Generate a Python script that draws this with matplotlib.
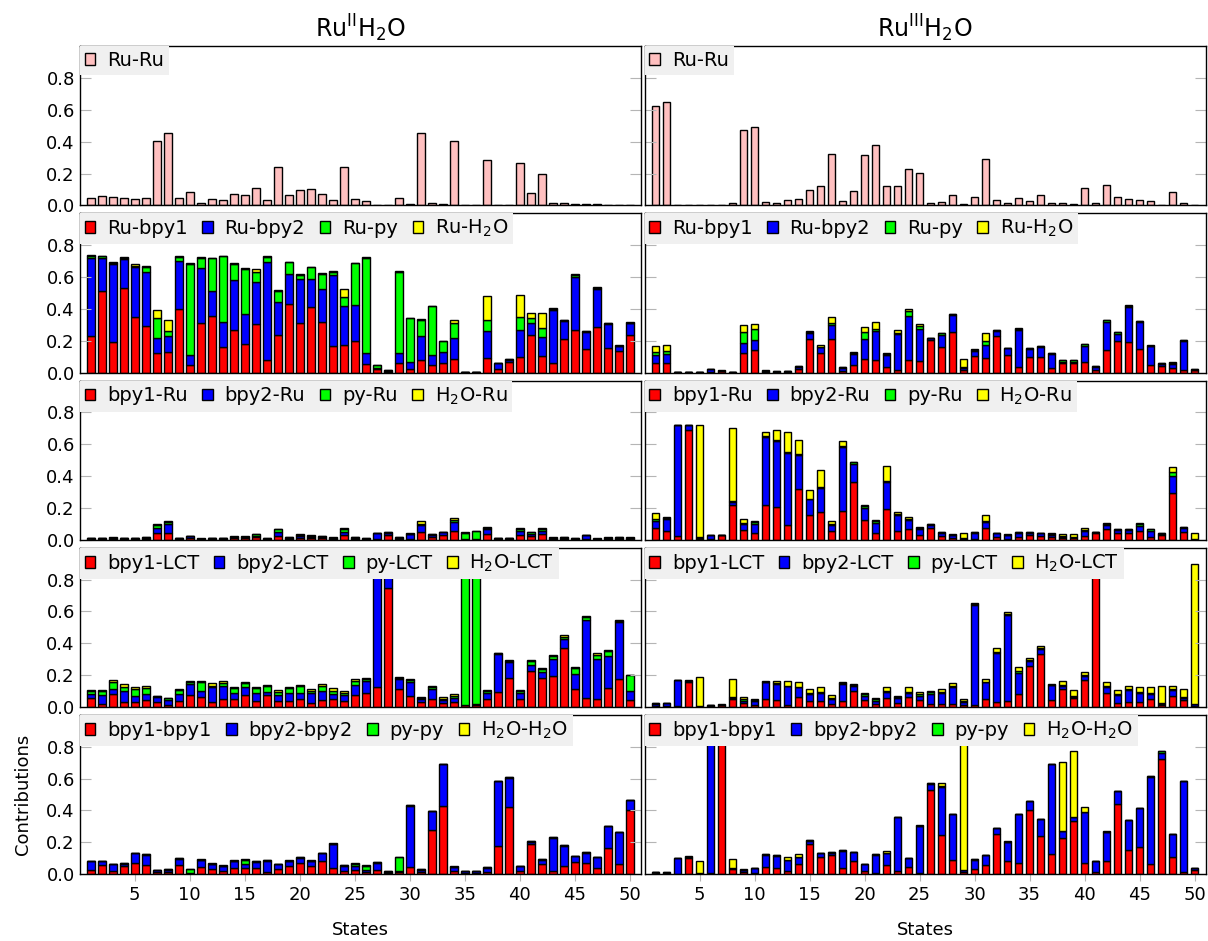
import matplotlib
matplotlib.use("Agg")
import matplotlib.pyplot as plt
import numpy as np

states = list(range(1, 51))
xtick_vals = [5, 10, 15, 20, 25, 30, 35, 40, 45, 50]
ytick_vals = [0.0, 0.2, 0.4, 0.6, 0.8]
column_titles = [r'Ru$^{\mathrm{II}}$H$_2$O', r'Ru$^{\mathrm{III}}$H$_2$O']

labels_ruru = ['Ru-Ru']
labels_ru_x = ['Ru-bpy1', 'Ru-bpy2', 'Ru-py', r'Ru-H$_2$O']
labels_x_ru = ['bpy1-Ru', 'bpy2-Ru', 'py-Ru', r'H$_2$O-Ru']
labels_lct = ['bpy1-LCT', 'bpy2-LCT', 'py-LCT', r'H$_2$O-LCT']
labels_xx = ['bpy1-bpy1', 'bpy2-bpy2', 'py-py', r'H$_2$O-H$_2$O']

# ---------------- Ru(II) ----------------
ii_ruru = [0.048,0.056,0.052,0.044,0.038,0.048,0.406,0.454,0.044,0.085,
           0.015,0.040,0.031,0.073,0.065,0.106,0.031,0.242,0.065,0.096,
           0.102,0.073,0.033,0.240,0.042,0.025,0.004,0.004,0.048,0.010,
           0.456,0.017,0.008,0.404,0.002,0.002,0.283,0.002,0.002,0.267,
           0.077,0.194,0.017,0.012,0.008,0.006,0.008,0.004,0.004,0.003]

ii_ru_bpy1 = [0.23,0.51,0.19,0.53,0.35,0.29,0.12,0.127,0.40,0.048,
              0.31,0.358,0.16,0.265,0.18,0.306,0.077,0.238,0.43,0.31,
              0.41,0.317,0.169,0.175,0.20,0.056,0.02,0.005,0.062,0.023,
              0.081,0.048,0.06,0.085,0.001,0.001,0.092,0.023,0.065,0.10,
              0.238,0.106,0.06,0.21,0.265,0.148,0.283,0.154,0.138,0.238]
ii_ru_bpy2 = [0.49,0.21,0.49,0.18,0.31,0.34,0.10,0.10,0.30,0.065,
              0.344,0.155,0.16,0.316,0.19,0.265,0.62,0.202,0.19,0.275,
              0.175,0.21,0.444,0.246,0.225,0.067,0.008,0.005,0.061,0.042,
              0.146,0.06,0.067,0.132,0.001,0.001,0.166,0.035,0.014,0.167,
              0.072,0.117,0.334,0.115,0.337,0.108,0.244,0.15,0.027,0.072]
ii_ru_py = [0.01,0.01,0.01,0.01,0.01,0.03,0.12,0.035,0.025,0.566,
            0.067,0.204,0.41,0.098,0.28,0.062,0.031,0.075,0.073,0.025,
            0.075,0.09,0.018,0.052,0.26,0.598,0.018,0.003,0.51,0.277,
            0.104,0.307,0.069,0.093,0.001,0.001,0.073,0.003,0.004,0.079,
            0.03,0.056,0.005,0.004,0.01,0.005,0.005,0.005,0.004,0.004]
ii_ru_h2o = [0.01,0.005,0.005,0.005,0.01,0.008,0.055,0.065,0.006,0.01,
             0.003,0.003,0.002,0.01,0.006,0.015,0.002,0.004,0.004,0.012,
             0.002,0.006,0.006,0.052,0.006,0.002,0.001,0.001,0.005,0.002,
             0.004,0.004,0.005,0.017,0.001,0.001,0.15,0.001,0.002,0.14,
             0.031,0.096,0.005,0.004,0.005,0.002,0.003,0.002,0.002,0.002]

ii_bpy1_ru = [0.004,0.004,0.005,0.004,0.004,0.006,0.044,0.04,0.004,0.008,
              0.003,0.004,0.004,0.01,0.012,0.015,0.003,0.025,0.006,0.012,
              0.012,0.01,0.005,0.029,0.006,0.003,0.003,0.033,0.005,0.003,
              0.046,0.02,0.027,0.052,0.002,0.002,0.035,0.004,0.004,0.027,
              0.025,0.035,0.005,0.005,0.003,0.003,0.003,0.005,0.005,0.006]
ii_bpy2_ru = [0.004,0.004,0.005,0.004,0.004,0.006,0.033,0.062,0.004,0.015,
              0.002,0.004,0.004,0.006,0.006,0.01,0.003,0.023,0.006,0.01,
              0.008,0.008,0.005,0.021,0.006,0.003,0.04,0.012,0.006,0.036,
              0.046,0.012,0.02,0.058,0.001,0.001,0.03,0.004,0.004,0.029,
              0.012,0.019,0.005,0.006,0.003,0.024,0.002,0.005,0.006,0.005]
ii_py_ru = [0.003,0.003,0.003,0.003,0.003,0.003,0.013,0.008,0.003,0.0,
            0.002,0.003,0.003,0.004,0.002,0.01,0.002,0.017,0.004,0.01,
            0.006,0.006,0.003,0.015,0.004,0.002,0.0,0.002,0.004,0.0,
            0.01,0.002,0.0,0.017,0.042,0.052,0.012,0.003,0.003,0.013,
            0.01,0.012,0.003,0.004,0.002,0.0,0.002,0.003,0.004,0.002]
ii_h2o_ru = [0.002,0.002,0.002,0.002,0.002,0.002,0.008,0.01,0.002,0.002,
             0.002,0.002,0.002,0.002,0.002,0.002,0.002,0.002,0.002,0.002,
             0.002,0.002,0.002,0.006,0.002,0.002,0.002,0.002,0.002,0.002,
             0.013,0.002,0.002,0.012,0.001,0.001,0.006,0.002,0.002,0.008,
             0.002,0.008,0.002,0.002,0.002,0.002,0.002,0.002,0.002,0.002]

ii_bpy1_lct = [0.056,0.021,0.083,0.029,0.029,0.044,0.029,0.015,0.035,0.077,
               0.065,0.033,0.052,0.052,0.077,0.04,0.073,0.04,0.04,0.05,
               0.023,0.046,0.052,0.04,0.077,0.085,0.127,0.748,0.115,0.067,
               0.029,0.048,0.023,0.033,0.01,0.015,0.05,0.092,0.179,0.05,
               0.223,0.179,0.196,0.369,0.113,0.058,0.052,0.119,0.177,0.046]
ii_bpy2_lct = [0.023,0.054,0.03,0.073,0.042,0.037,0.031,0.031,0.046,0.067,
               0.037,0.09,0.081,0.033,0.05,0.045,0.019,0.035,0.05,0.035,
               0.067,0.054,0.029,0.035,0.063,0.08,0.85,0.2,0.062,0.093,
               0.021,0.065,0.021,0.023,0.001,0.001,0.035,0.239,0.106,0.035,
               0.042,0.038,0.104,0.056,0.093,0.486,0.25,0.2,0.354,0.054]
ii_py_lct = [0.021,0.025,0.045,0.025,0.042,0.038,0.006,0.008,0.025,0.012,
             0.056,0.01,0.017,0.032,0.021,0.032,0.037,0.021,0.029,0.048,
             0.012,0.033,0.021,0.015,0.025,0.012,0.003,0.003,0.008,0.008,
             0.008,0.01,0.008,0.015,0.95,0.95,0.013,0.005,0.005,0.017,
             0.025,0.021,0.017,0.017,0.036,0.021,0.023,0.033,0.008,0.098]
ii_h2o_lct = [0.008,0.006,0.01,0.015,0.012,0.01,0.004,0.004,0.005,0.008,
              0.006,0.02,0.013,0.006,0.008,0.008,0.008,0.008,0.008,0.006,
              0.014,0.01,0.02,0.01,0.01,0.008,0.002,0.002,0.005,0.007,
              0.006,0.01,0.008,0.01,0.002,0.002,0.008,0.004,0.004,0.006,
              0.005,0.008,0.01,0.01,0.01,0.006,0.017,0.006,0.005,0.002]

ii_bpy1_bpy1 = [0.027,0.06,0.019,0.05,0.071,0.058,0.012,0.012,0.058,0.005,
                0.048,0.033,0.019,0.042,0.038,0.04,0.012,0.035,0.05,0.073,
                0.052,0.081,0.038,0.021,0.027,0.012,0.025,0.01,0.015,0.046,
                0.015,0.277,0.431,0.017,0.008,0.005,0.012,0.179,0.419,0.019,
                0.19,0.063,0.017,0.05,0.075,0.069,0.04,0.163,0.063,0.404]
ii_bpy2_bpy2 = [0.054,0.021,0.044,0.017,0.06,0.065,0.014,0.016,0.04,0.005,
                0.042,0.032,0.033,0.041,0.027,0.039,0.073,0.028,0.033,0.031,
                0.031,0.05,0.152,0.033,0.027,0.012,0.048,0.005,0.008,0.385,
                0.014,0.119,0.259,0.029,0.01,0.012,0.03,0.406,0.187,0.031,
                0.014,0.029,0.212,0.129,0.038,0.066,0.068,0.137,0.2,0.059]
ii_py_py = [0.002,0.002,0.002,0.002,0.002,0.002,0.002,0.002,0.002,0.02,
            0.002,0.002,0.002,0.002,0.027,0.002,0.002,0.002,0.002,0.002,
            0.002,0.002,0.002,0.002,0.013,0.03,0.002,0.002,0.083,0.002,
            0.002,0.002,0.002,0.002,0.002,0.002,0.002,0.002,0.002,0.002,
            0.002,0.002,0.002,0.002,0.002,0.002,0.002,0.002,0.002,0.002]
ii_h2o_h2o = [0.001,0.001,0.001,0.001,0.001,0.001,0.001,0.001,0.001,0.001,
              0.001,0.001,0.001,0.001,0.002,0.001,0.001,0.001,0.001,0.001,
              0.001,0.001,0.001,0.001,0.004,0.001,0.001,0.001,0.001,0.001,
              0.001,0.001,0.001,0.001,0.001,0.001,0.001,0.001,0.001,0.001,
              0.001,0.001,0.001,0.001,0.001,0.001,0.001,0.001,0.001,0.001]

# ---------------- Ru(III) ----------------
iii_ruru = [0.621,0.648,0.002,0.002,0.003,0.002,0.002,0.012,0.473,0.494,
            0.023,0.017,0.035,0.040,0.098,0.123,0.325,0.029,0.088,0.319,
            0.379,0.123,0.123,0.229,0.204,0.017,0.021,0.067,0.006,0.050,
            0.294,0.033,0.012,0.048,0.027,0.063,0.012,0.012,0.008,0.106,
            0.017,0.125,0.050,0.040,0.033,0.029,0.004,0.085,0.017,0.004]

iii_ru_bpy1 = [0.06,0.06,0.001,0.001,0.001,0.002,0.008,0.003,0.121,0.142,
               0.005,0.004,0.005,0.023,0.21,0.123,0.21,0.01,0.048,0.085,
               0.079,0.035,0.019,0.081,0.071,0.206,0.16,0.252,0.015,0.102,
               0.092,0.231,0.108,0.035,0.096,0.096,0.029,0.062,0.06,0.065,
               0.015,0.142,0.198,0.194,0.148,0.048,0.044,0.027,0.015,0.015]
iii_ru_bpy2 = [0.05,0.059,0.001,0.001,0.001,0.018,0.002,0.001,0.064,0.06,
               0.005,0.002,0.003,0.015,0.038,0.035,0.09,0.02,0.069,0.125,
               0.184,0.073,0.225,0.275,0.2,0.01,0.078,0.108,0.012,0.031,
               0.081,0.029,0.044,0.23,0.052,0.064,0.088,0.007,0.008,0.1,
               0.018,0.173,0.046,0.219,0.167,0.117,0.008,0.025,0.185,0.004]
iii_ru_py = [0.019,0.016,0.0,0.0,0.0,0.002,0.002,0.001,0.069,0.073,
             0.002,0.001,0.001,0.002,0.005,0.005,0.01,0.003,0.008,0.044,
             0.008,0.006,0.005,0.032,0.02,0.003,0.008,0.008,0.005,0.01,
             0.025,0.008,0.004,0.01,0.008,0.008,0.005,0.008,0.008,0.016,
             0.006,0.016,0.008,0.008,0.008,0.004,0.006,0.008,0.004,0.001]
iii_ru_h2o = [0.038,0.036,0.0,0.0,0.0,0.001,0.001,0.001,0.044,0.029,
              0.001,0.001,0.001,0.001,0.005,0.01,0.038,0.001,0.006,0.031,
              0.046,0.01,0.02,0.012,0.017,0.001,0.001,0.001,0.055,0.002,
              0.052,0.002,0.001,0.002,0.001,0.001,0.001,0.001,0.001,0.001,
              0.001,0.001,0.001,0.001,0.001,0.001,0.001,0.004,0.001,0.001]

iii_bpy1_ru = [0.077,0.054,0.025,0.692,0.005,0.002,0.027,0.221,0.06,0.04,
               0.219,0.206,0.09,0.317,0.154,0.175,0.058,0.179,0.36,0.123,
               0.044,0.196,0.052,0.067,0.029,0.071,0.021,0.008,0.004,0.006,
               0.075,0.019,0.006,0.019,0.031,0.021,0.015,0.012,0.01,0.023,
               0.042,0.065,0.04,0.04,0.056,0.019,0.029,0.294,0.048,0.002]
iii_bpy2_ru = [0.042,0.075,0.696,0.029,0.005,0.029,0.001,0.019,0.038,0.058,
               0.429,0.417,0.458,0.216,0.1,0.152,0.036,0.402,0.117,0.079,
               0.06,0.169,0.104,0.056,0.036,0.02,0.019,0.023,0.006,0.038,
               0.038,0.021,0.025,0.023,0.01,0.019,0.018,0.008,0.006,0.031,
               0.004,0.027,0.02,0.02,0.029,0.037,0.006,0.104,0.029,0.001]
iii_py_ru = [0.012,0.01,0.001,0.001,0.005,0.001,0.001,0.003,0.01,0.012,
             0.006,0.003,0.004,0.004,0.004,0.004,0.005,0.01,0.01,0.01,
             0.012,0.006,0.006,0.01,0.012,0.008,0.006,0.002,0.004,0.002,
             0.008,0.003,0.002,0.004,0.005,0.003,0.005,0.004,0.004,0.01,
             0.002,0.01,0.005,0.005,0.012,0.01,0.005,0.027,0.004,0.001]
iii_h2o_ru = [0.036,0.004,0.001,0.001,0.708,0.001,0.001,0.46,0.025,0.008,
              0.023,0.066,0.125,0.092,0.052,0.108,0.02,0.03,0.004,0.008,
              0.006,0.094,0.015,0.012,0.002,0.002,0.002,0.001,0.03,0.001,
              0.032,0.002,0.001,0.001,0.001,0.001,0.004,0.014,0.014,0.009,
              0.001,0.006,0.002,0.002,0.008,0.002,0.002,0.035,0.002,0.036]

iii_bpy1_lct = [0.008,0.008,0.004,0.154,0.003,0.004,0.01,0.05,0.023,0.01,
                0.048,0.044,0.015,0.065,0.035,0.04,0.019,0.04,0.1,0.044,
                0.019,0.054,0.027,0.06,0.044,0.019,0.019,0.019,0.01,0.01,
                0.048,0.033,0.035,0.081,0.258,0.331,0.044,0.113,0.054,0.169,
                0.95,0.085,0.027,0.031,0.029,0.052,0.01,0.071,0.044,0.004]
iii_bpy2_lct = [0.01,0.014,0.165,0.008,0.002,0.008,0.003,0.006,0.017,0.025,
                0.106,0.1,0.114,0.058,0.046,0.048,0.029,0.104,0.029,0.027,
                0.021,0.042,0.027,0.03,0.027,0.062,0.071,0.104,0.019,0.628,
                0.106,0.309,0.54,0.134,0.032,0.032,0.091,0.016,0.01,0.027,
                0.001,0.038,0.05,0.075,0.059,0.029,0.01,0.035,0.015,0.012]
iii_py_lct = [0.005,0.002,0.002,0.004,0.001,0.002,0.002,0.004,0.01,0.008,
              0.006,0.006,0.004,0.004,0.006,0.004,0.006,0.006,0.01,0.012,
              0.01,0.006,0.01,0.006,0.008,0.012,0.006,0.006,0.006,0.006,
              0.005,0.006,0.006,0.008,0.006,0.006,0.006,0.006,0.006,0.006,
              0.001,0.006,0.006,0.008,0.008,0.006,0.004,0.006,0.006,0.001]
iii_h2o_lct = [0.004,0.001,0.001,0.001,0.185,0.001,0.001,0.115,0.01,0.005,
               0.002,0.015,0.032,0.027,0.028,0.031,0.019,0.004,0.005,0.007,
               0.006,0.025,0.007,0.027,0.015,0.005,0.014,0.019,0.015,0.012,
               0.018,0.021,0.015,0.025,0.014,0.014,0.002,0.03,0.036,0.017,
               0.001,0.031,0.023,0.015,0.027,0.036,0.11,0.021,0.05,0.88]

iii_bpy1_bpy1 = [0.006,0.005,0.004,0.104,0.002,0.008,0.95,0.031,0.015,0.01,
                 0.046,0.042,0.019,0.067,0.19,0.106,0.123,0.04,0.085,0.023,
                 0.008,0.06,0.017,0.044,0.008,0.527,0.248,0.09,0.015,0.033,
                 0.056,0.252,0.081,0.069,0.406,0.24,0.127,0.227,0.335,0.069,
                 0.013,0.081,0.44,0.154,0.173,0.065,0.721,0.11,0.013,0.027]
iii_bpy2_bpy2 = [0.006,0.005,0.096,0.006,0.002,0.95,0.001,0.008,0.012,0.027,
                 0.077,0.075,0.068,0.039,0.02,0.025,0.01,0.108,0.055,0.042,
                 0.115,0.071,0.343,0.056,0.296,0.042,0.302,0.287,0.01,0.059,
                 0.065,0.038,0.123,0.31,0.054,0.106,0.563,0.046,0.025,0.323,
                 0.068,0.186,0.083,0.186,0.24,0.548,0.042,0.142,0.572,0.009]
iii_py_py = [0.002,0.002,0.001,0.001,0.001,0.001,0.001,0.001,0.002,0.001,
             0.001,0.001,0.005,0.003,0.004,0.004,0.004,0.001,0.001,0.001,
             0.001,0.001,0.001,0.001,0.001,0.004,0.001,0.001,0.001,0.001,
             0.001,0.001,0.001,0.001,0.001,0.001,0.001,0.001,0.001,0.001,
             0.001,0.001,0.001,0.001,0.001,0.001,0.008,0.001,0.001,0.004]
iii_h2o_h2o = [0.001,0.001,0.001,0.001,0.075,0.001,0.001,0.057,0.001,0.001,
               0.001,0.001,0.014,0.016,0.001,0.001,0.001,0.001,0.001,0.001,
               0.001,0.012,0.001,0.001,0.006,0.001,0.022,0.001,0.95,0.001,
               0.001,0.001,0.001,0.001,0.001,0.001,0.001,0.431,0.413,0.031,
               0.001,0.001,0.001,0.001,0.001,0.001,0.001,0.001,0.001,0.001]

colors4 = ['#ff0000', '#0000ff', '#00ff00', '#ffff00']
pink = '#ffc0c0'

rows_ii = [[ii_ruru],
           [ii_ru_bpy1, ii_ru_bpy2, ii_ru_py, ii_ru_h2o],
           [ii_bpy1_ru, ii_bpy2_ru, ii_py_ru, ii_h2o_ru],
           [ii_bpy1_lct, ii_bpy2_lct, ii_py_lct, ii_h2o_lct],
           [ii_bpy1_bpy1, ii_bpy2_bpy2, ii_py_py, ii_h2o_h2o]]
rows_iii = [[iii_ruru],
            [iii_ru_bpy1, iii_ru_bpy2, iii_ru_py, iii_ru_h2o],
            [iii_bpy1_ru, iii_bpy2_ru, iii_py_ru, iii_h2o_ru],
            [iii_bpy1_lct, iii_bpy2_lct, iii_py_lct, iii_h2o_lct],
            [iii_bpy1_bpy1, iii_bpy2_bpy2, iii_py_py, iii_h2o_h2o]]
row_labels = [labels_ruru, labels_ru_x, labels_x_ru, labels_lct, labels_xx]

fig, axes = plt.subplots(5, 2, figsize=(12.08, 9.41), dpi=100)
fig.subplots_adjust(left=0.066, right=0.998, top=0.951, bottom=0.071,
                    wspace=0.007, hspace=0.05)

x = np.array(states)
for c, rows in enumerate([rows_ii, rows_iii]):
    for r in range(5):
        ax = axes[r, c]
        series = rows[r]
        labs = row_labels[r]
        bottom = np.zeros(len(states))
        for k, s in enumerate(series):
            col = pink if len(series) == 1 else colors4[k]
            ax.bar(x, s, width=0.7, bottom=bottom, color=col,
                   edgecolor='black', linewidth=1.0, label=labs[k])
            bottom = bottom + np.array(s)
        ax.set_xlim(0, 51)
        ax.set_ylim(0, 1.0)
        ax.set_yticks(ytick_vals)
        ax.tick_params(axis='y', direction='in', length=8, color='#b5b5b5',
                       left=True, right=True, labelsize=13)
        if c == 1:
            ax.tick_params(axis='y', labelleft=False)
        else:
            ax.set_yticklabels(['%.1f' % v for v in ytick_vals])
        ax.set_xticks(xtick_vals)
        if r == 4:
            ax.tick_params(axis='x', direction='out', length=5, color='#b5b5b5',
                           labelsize=13)
            ax.set_xlabel('States', fontsize=13, labelpad=12)
        else:
            ax.tick_params(axis='x', length=0, labelbottom=False)
        for sp in ax.spines.values():
            sp.set_linewidth(1.0)
            sp.set_color('black')
        ax.legend(loc='upper left', ncol=4, fontsize=14, frameon=True,
                  fancybox=False, framealpha=1.0, facecolor='#f0f0f0',
                  edgecolor='none', borderaxespad=0.0, borderpad=0.25,
                  handlelength=0.55, handleheight=0.55, handletextpad=0.6,
                  columnspacing=0.75)
        if r == 0:
            ax.set_title(column_titles[c], fontsize=17, pad=6)

axes[4, 0].set_ylabel('Contributions', fontsize=13, labelpad=10)

fig.savefig('out.png', dpi=100)
